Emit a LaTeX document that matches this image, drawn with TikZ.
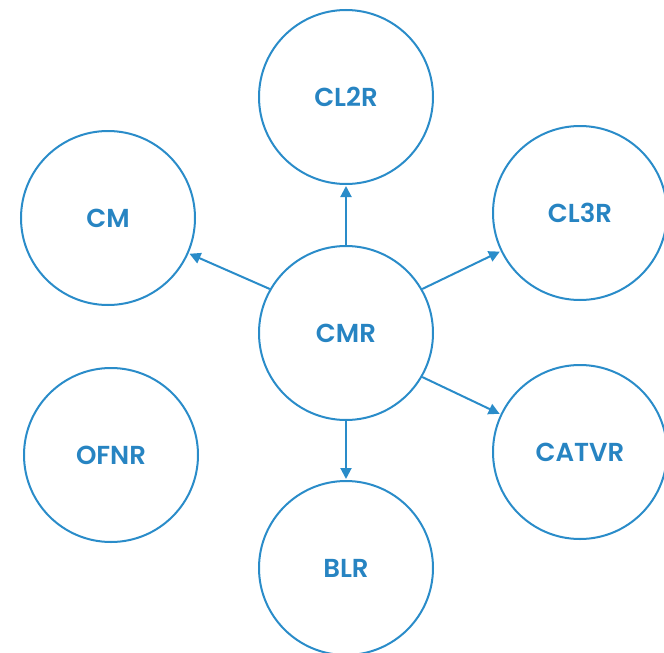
\documentclass[tikz,border=0pt]{standalone}
\usepackage{fontspec}
\newfontfamily\labfont{Poppins SemiBold}
\usetikzlibrary{arrows.meta}
\definecolor{cblue}{HTML}{2A8CC9}
\definecolor{tblue}{HTML}{2784C2}
\tikzset{
  circ/.style={circle, draw=cblue, line width=2pt, minimum size=174pt, inner sep=0pt,
    text=tblue, font=\labfont\fontsize{26}{28}\selectfont},
  link/.style={draw=cblue, line width=2pt, -{Triangle[length=11pt,width=11pt]}, shorten >=1pt}
}
\begin{document}
\begin{tikzpicture}[x=1pt,y=-1pt]
\useasboundingbox (0,0) rectangle (664,653);
\node[circ] (cl2r) at (346,97) {CL2R};
\node[circ] (cm) at (108,218) {CM};
\node[circ] (cl3r) at (580,213) {CL3R};
\node[circ] (cmr) at (346,333) {CMR};
\node[circ] (ofnr) at (111,455) {OFNR};
\node[circ] (catvr) at (580,452) {CATVR};
\node[circ] (blr) at (346,568) {BLR};
\draw[link] (cmr) -- (cl2r);
\draw[link] (cmr.150) -- (cm);
\draw[link] (cmr.30) -- (cl3r);
\draw[link] (cmr.-30) -- (catvr);
\draw[link] (cmr) -- (blr);
\end{tikzpicture}
\end{document}
